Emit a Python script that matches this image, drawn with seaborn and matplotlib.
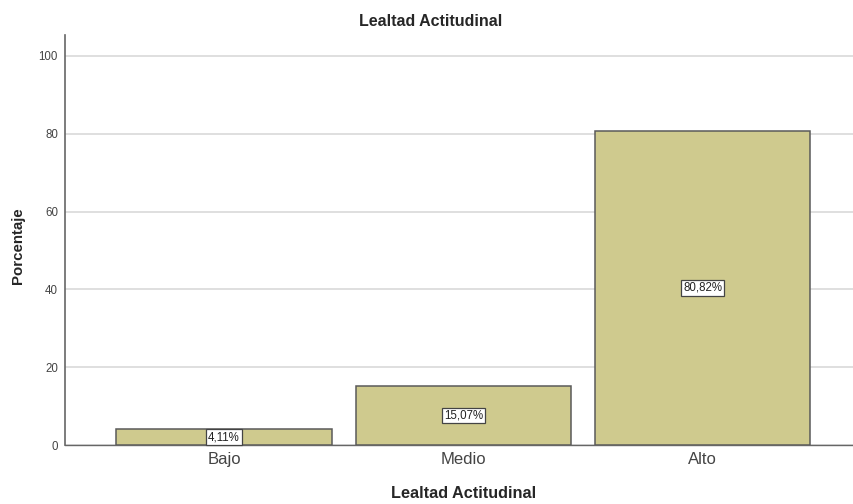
import matplotlib
matplotlib.use("Agg")
import matplotlib.pyplot as plt
import seaborn as sns
import pandas as pd

# Data
categories = ["Bajo", "Medio", "Alto"]
percentages = [4.11, 15.07, 80.82]
labels = ["4,11%", "15,07%", "80,82%"]

df = pd.DataFrame({"nivel": categories, "pct": percentages})

sns.set_style("white")
plt.rcParams["font.family"] = ["Liberation Sans", "DejaVu Sans"]

fig = plt.figure(figsize=(8.54, 5.04), dpi=100)
ax = fig.add_axes([0.0761, 0.117, 0.923, 0.8136])

sns.barplot(data=df, x="nivel", y="pct", color="#cfca8e", saturation=1,
            width=0.9, edgecolor="#5a5a5a", linewidth=1.1, ax=ax, zorder=3)

for i, (p, lab) in enumerate(zip(percentages, labels)):
    ax.text(i, p / 2, lab, ha="center", va="center", fontsize=8.3, color="#222222",
            bbox=dict(boxstyle="square,pad=0.15", fc="white", ec="#444444", lw=0.9),
            zorder=5)

ax.set_ylim(0, 105.4)
ax.set_xlim(-0.665, 2.63)
ax.set_yticks([0, 20, 40, 60, 80, 100])
ax.yaxis.grid(True, color="#d9d9d9", linewidth=1.2, zorder=0)
ax.set_axisbelow(True)

for s in ["top", "right"]:
    ax.spines[s].set_visible(False)
ax.spines["left"].set_color("#666666")
ax.spines["bottom"].set_color("#666666")
ax.spines["left"].set_linewidth(1.2)
ax.spines["bottom"].set_linewidth(1.0)

ax.tick_params(axis="y", labelsize=8.3, colors="#444444", length=0, pad=5)
ax.tick_params(axis="x", labelsize=12, colors="#444444", length=0, pad=5)

fig.text(431 / 854, 1 - 22 / 504, "Lealtad Actitudinal", fontsize=11.5,
         fontweight="bold", ha="center", va="center")
ax.set_xlabel("Lealtad Actitudinal", fontsize=11.7, fontweight="bold")
ax.xaxis.set_label_coords((464 - 65) / (0.923 * 854), -(493 - 445) / (0.8136 * 504))
ax.xaxis.label.set_va("center")
ax.set_ylabel("Porcentaje", fontsize=10.8, fontweight="bold")
ax.yaxis.set_label_coords(-(65 - 18) / (0.923 * 854), (445 - 246) / (0.8136 * 504))
ax.yaxis.label.set_va("center")

fig.savefig("out.png", dpi=100)
